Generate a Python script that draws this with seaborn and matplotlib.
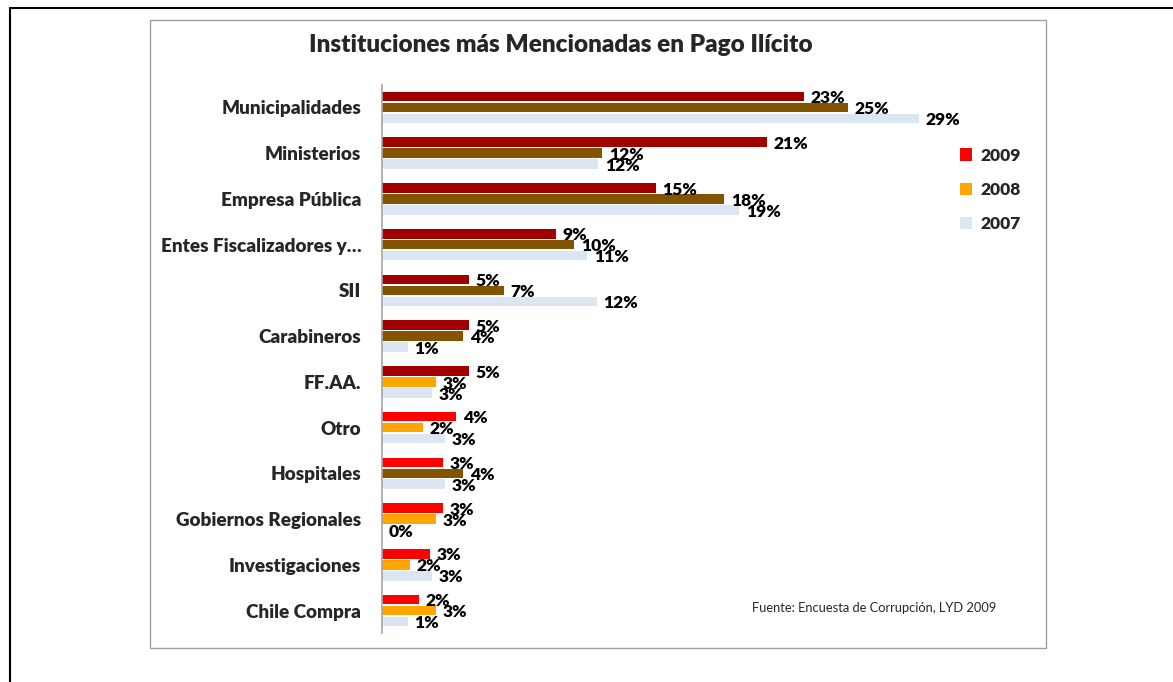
import matplotlib
matplotlib.use('Agg')
import matplotlib.pyplot as plt
import seaborn as sns
import pandas as pd
from matplotlib.patches import Patch, Rectangle
from matplotlib.lines import Line2D

categories = ['Municipalidades', 'Ministerios', 'Empresa Pública', 'Entes Fiscalizadores y…',
              'SII', 'Carabineros', 'FF.AA.', 'Otro', 'Hospitales', 'Gobiernos Regionales',
              'Investigaciones', 'Chile Compra']
years = ['2009', '2008', '2007']
v2009 = [22.8, 20.8, 14.8, 9.4, 4.7, 4.7, 4.7, 4.0, 3.3, 3.3, 2.6, 2.0]
v2008 = [25.2, 11.9, 18.5, 10.4, 6.6, 4.4, 2.9, 2.2, 4.4, 2.9, 1.5, 2.9]
v2007 = [29.0, 11.7, 19.3, 11.1, 11.6, 1.4, 2.7, 3.4, 3.4, 0.0, 2.7, 1.4]
lab2009 = [23, 21, 15, 9, 5, 5, 5, 4, 3, 3, 3, 2]
lab2008 = [25, 12, 18, 10, 7, 4, 3, 2, 4, 3, 2, 3]
lab2007 = [29, 12, 19, 11, 12, 1, 3, 3, 3, 0, 3, 1]

DRED, RED, BROWN, ORANGE, LIGHT = '#a10000', '#ff0000', '#835400', '#ffa500', '#dce6f2'
c2009 = [DRED] * 7 + [RED] * 5
c2008 = [BROWN, BROWN, BROWN, BROWN, BROWN, BROWN, ORANGE, ORANGE, BROWN, ORANGE, ORANGE, ORANGE]
c2007 = [LIGHT] * 12
legend_colors = [RED, ORANGE, LIGHT]

values = {'2009': v2009, '2008': v2008, '2007': v2007}
labels = {'2009': lab2009, '2008': lab2008, '2007': lab2007}
colors = {'2009': c2009, '2008': c2008, '2007': c2007}

rows = []
for y in years:
    for c, v in zip(categories, values[y]):
        rows.append({'cat': c, 'val': v, 'year': y})
df = pd.DataFrame(rows)

sns.set_theme(style='white')
plt.rcParams['font.family'] = ['Lato', 'DejaVu Sans']
BW = 'heavy'

W, H = 1173, 682
fig = plt.figure(figsize=(W / 100, H / 100), dpi=100)
fig.patch.set_facecolor('white')
ax = fig.add_axes([382 / W, 1 - 633.4 / H, 573.5 / W, (633.4 - 84.6) / H])

sns.barplot(data=df, y='cat', x='val', hue='year', hue_order=years, order=categories,
            orient='h', width=0.72, gap=0.12, saturation=1, legend=False, ax=ax)

for j, y in enumerate(years):
    cont = ax.containers[j]
    for bar in cont:
        cy = bar.get_y() + bar.get_height() / 2
        i = int(round(cy))
        bar.set_facecolor(colors[y][i])
        bar.set_edgecolor('none')
        ax.annotate(f"{labels[y][i]}%", xy=(bar.get_width(), cy), xytext=(4.8, -1.2),
                    textcoords='offset points', ha='left', va='center',
                    fontsize=12.5, fontweight=BW, color='black', annotation_clip=False)

ax.set_xlim(0, 31)
ax.set_ylim(11.5, -0.5)
ax.set_xlabel('')
ax.set_ylabel('')
ax.set_xticks([])
for s in ['top', 'right', 'bottom']:
    ax.spines[s].set_visible(False)
ax.spines['left'].set_color('#a6a6a6')
ax.spines['left'].set_linewidth(1.2)
ax.tick_params(axis='y', length=0, pad=15, labelsize=13.6)
for t in ax.get_yticklabels():
    t.set_fontweight(BW)
ax.set_facecolor('none')

handles = [Patch(facecolor=c, edgecolor='none') for c in legend_colors]
fig.legend(handles, years, loc='upper left', bbox_to_anchor=(944 / W, 1 - 132 / H),
           frameon=False, handlelength=0.7, handleheight=0.7, handletextpad=0.5,
           labelspacing=1.05, prop={'weight': BW, 'size': 12.5})

fig.text(561 / W, 1 - 45 / H, 'Instituciones más Mencionadas en Pago Ilícito',
         ha='center', va='center', fontsize=17.5, fontweight=BW)
fig.text(752 / W, 1 - 608 / H, 'Fuente: Encuesta de Corrupción, LYD 2009',
         ha='left', va='center', fontsize=9.3)

fig.add_artist(Line2D([10 / W, 10 / W], [0, 1 - 8 / H], color='black', lw=1.5))
fig.add_artist(Line2D([10 / W, 1], [1 - 8 / H, 1 - 8 / H], color='black', lw=1.5))
fig.add_artist(Rectangle((150 / W, 1 - 648 / H), (1046 - 150) / W, (648 - 20) / H,
                         fill=False, edgecolor='#a0a0a0', lw=1, transform=fig.transFigure))

fig.savefig('out.png', dpi=100, facecolor='white')
